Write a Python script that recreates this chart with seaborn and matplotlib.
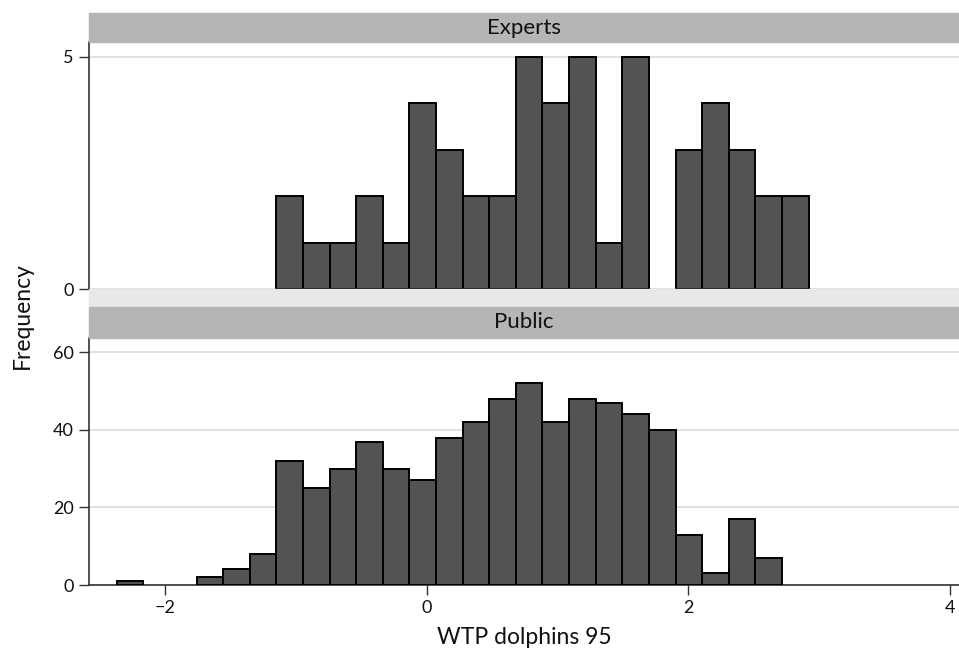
import numpy as np
import pandas as pd
import matplotlib
matplotlib.use("Agg")
import matplotlib.pyplot as plt
import seaborn as sns
from matplotlib.patches import Rectangle

# ---- data ----
bin_start = -2.368
bin_width = 0.2034
public_counts = [1, 0, 0, 2, 4, 8, 32, 25, 30, 37, 30, 27, 38, 42, 48, 52, 42, 48, 47, 44, 40, 13, 3, 17, 7]
experts_offset = 6  # experts histogram begins at this bin index
experts_counts = [2, 1, 1, 2, 1, 4, 3, 2, 2, 5, 4, 5, 1, 5, 0, 3, 4, 3, 2, 2]
panels = ["Experts", "Public"]
x_ticks = [-2, 0, 2, 4]
experts_yticks = [0, 5]
public_yticks = [0, 20, 40, 60]
x_label = "WTP dolphins 95"
y_label = "Frequency"

sns.set_style("white")
plt.rcParams["font.family"] = ["Lato", "DejaVu Sans"]

n_bins = max(len(public_counts), experts_offset + len(experts_counts))
edges = [float(bin_start + bin_width * i) for i in range(n_bins + 1)]
centers = [e + bin_width / 2 for e in edges[:-1]]

exp_full = np.zeros(n_bins)
exp_full[experts_offset:experts_offset + len(experts_counts)] = experts_counts
pub_full = np.zeros(n_bins)
pub_full[:len(public_counts)] = public_counts

df = pd.concat([
    pd.DataFrame({"group": "Experts", "x": centers, "w": exp_full}),
    pd.DataFrame({"group": "Public", "x": centers, "w": pub_full}),
], ignore_index=True)

W, H = 959, 652
fig = plt.figure(figsize=(W / 100, H / 100), dpi=100)

def fy(px):
    return 1 - px / H

left = 89 / W
width = 1 - left
ax_top = fig.add_axes([left, fy(289), width, (289 - 42) / H])
ax_bot = fig.add_axes([left, fy(585), width, (585 - 338) / H])

# light band between panels
fig.patches.append(Rectangle((left, fy(307)), width, (307 - 289) / H,
                             transform=fig.transFigure, color="#e8e8e8", zorder=0))
# strips
for (t, b), name in zip([(13, 42), (307, 338)], panels):
    fig.patches.append(Rectangle((left, fy(b)), width, (b - t) / H,
                                 transform=fig.transFigure, color="#b5b5b5", zorder=0))
    fig.text(left + width / 2, fy((t + b) / 2), name, ha="center", va="center",
             fontsize=16, color="#111111")

specs = [(ax_top, "Experts", experts_yticks, 5.32),
         (ax_bot, "Public", public_yticks, 63.7)]
for ax, name, yt, ytop in specs:
    sub = df[df["group"] == name].reset_index(drop=True)
    sns.histplot(data=sub, x="x", weights="w", bins=edges, ax=ax,
                 color="#535353", edgecolor="black", linewidth=1.4, alpha=1, zorder=3)
    for p in ax.patches:
        if p.get_height() == 0:
            p.set_visible(False)
    ax.set_xlim(-2.58, 4.07)
    ax.set_ylim(0, ytop)
    ax.set_yticks(yt)
    ax.yaxis.grid(True, color="#dcdcdc", linewidth=1.2, zorder=0)
    ax.set_axisbelow(True)
    for s in ["top", "right"]:
        ax.spines[s].set_visible(False)
    ax.spines["left"].set_color("#333333")
    ax.spines["left"].set_linewidth(1.2)
    ax.tick_params(axis="y", direction="out", length=7, width=1, color="#333333",
                   labelsize=13, labelcolor="#111111", left=True, pad=4)
    ax.set_ylabel("")
    ax.set_xlabel("")

ax_top.spines["bottom"].set_visible(False)
ax_top.set_xticks([])
ax_bot.set_xticks(x_ticks)
ax_bot.set_xticklabels(["\u22122" if v == -2 else str(v) for v in x_ticks])
ax_bot.spines["bottom"].set_color("#333333")
ax_bot.spines["bottom"].set_linewidth(1.2)
ax_bot.tick_params(axis="x", direction="out", length=7, width=1, color="#333333",
                   labelsize=13, labelcolor="#111111", bottom=True, pad=4)

fig.text(left + width / 2, fy(638), x_label, ha="center", va="center", fontsize=16.5, color="#111111")
fig.text(22 / W, fy(316), y_label, ha="center", va="center", rotation=90, fontsize=16.5, color="#111111")

fig.savefig("out.png", dpi=100)
